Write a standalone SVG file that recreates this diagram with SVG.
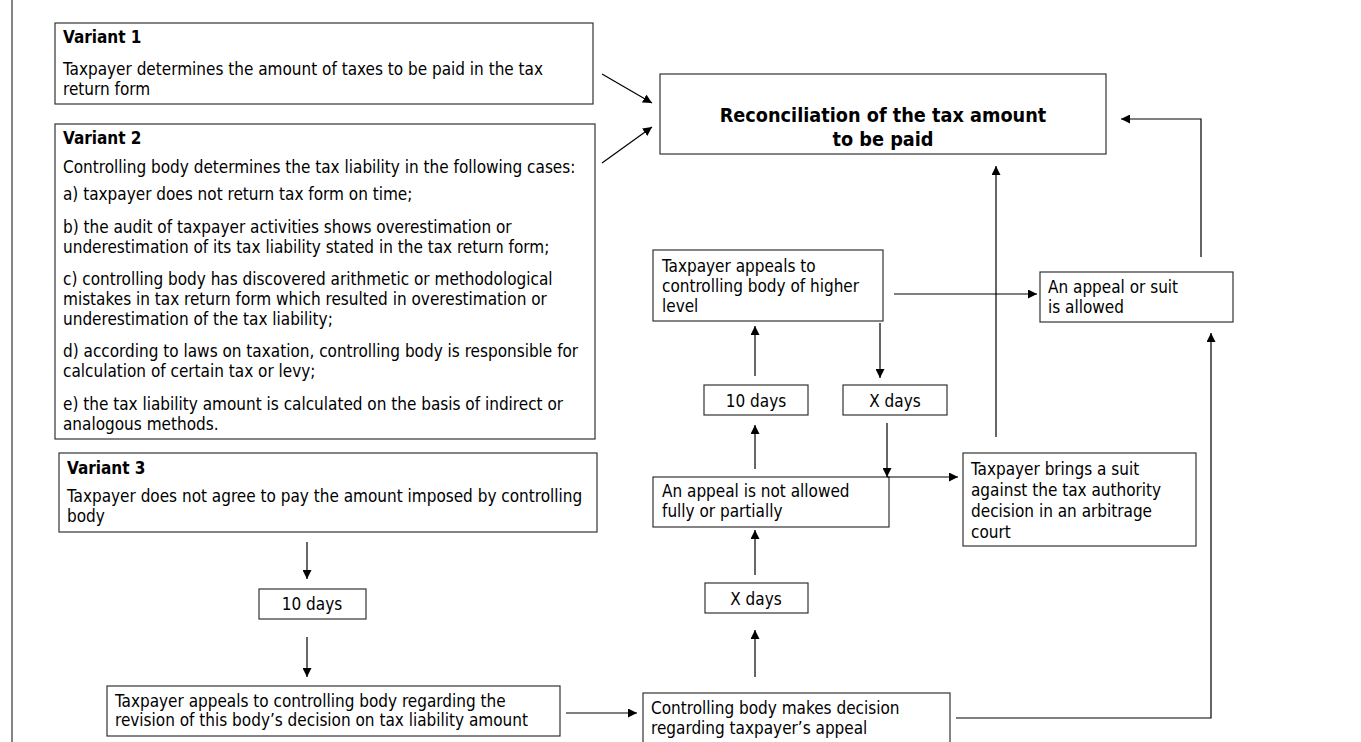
<svg xmlns="http://www.w3.org/2000/svg" width="1361" height="742" viewBox="0 0 1361 742">
<style>
.box{fill:#fff;stroke:#333;stroke-width:1.2}
.t{font-family:"DejaVu Sans Condensed","DejaVu Sans",sans-serif;font-size:17px;fill:#000}
.b{font-weight:bold}
.c{text-anchor:middle}
.big{font-size:19.7px;font-weight:bold;text-anchor:middle}
.ln{fill:none;stroke:#000;stroke-width:1.2}
.ar{marker-end:url(#ah)}
</style>
<defs>
<marker id="ah" viewBox="0 0 10 10" refX="10" refY="5" markerWidth="9" markerHeight="9" markerUnits="userSpaceOnUse" orient="auto">
<path d="M0,0 L10,5 L0,10 z" fill="#000"/>
</marker>
</defs>
<rect width="1361" height="742" fill="#fff"/>
<line x1="12" y1="0" x2="12" y2="742" stroke="#333" stroke-width="1.2"/>

<g id="v1">
<rect class="box" x="55" y="23" width="538" height="81"/>
<text class="t b" x="63" y="43">Variant 1</text>
<text class="t" x="63" y="75">Taxpayer determines the amount of taxes to be paid in the tax</text>
<text class="t" x="63" y="95">return form</text>
</g>

<g id="v2">
<rect class="box" x="55" y="124" width="540" height="315"/>
<text class="t b" x="63" y="144">Variant 2</text>
<text class="t" x="63" y="173">Controlling body determines the tax liability in the following cases:</text>
<text class="t" x="63" y="200">a) taxpayer does not return tax form on time;</text>
<text class="t" x="63" y="233">b) the audit of taxpayer activities shows overestimation or</text>
<text class="t" x="63" y="253">underestimation of its tax liability stated in the tax return form;</text>
<text class="t" x="63" y="285">c) controlling body has discovered arithmetic or methodological</text>
<text class="t" x="63" y="305">mistakes in tax return form which resulted in overestimation or</text>
<text class="t" x="63" y="325">underestimation of the tax liability;</text>
<text class="t" x="63" y="357">d) according to laws on taxation, controlling body is responsible for</text>
<text class="t" x="63" y="377">calculation of certain tax or levy;</text>
<text class="t" x="63" y="410">e) the tax liability amount is calculated on the basis of indirect or</text>
<text class="t" x="63" y="430">analogous methods.</text>
</g>

<g id="v3">
<rect class="box" x="59" y="453" width="538" height="79"/>
<text class="t b" x="67" y="474">Variant 3</text>
<text class="t" x="67" y="502">Taxpayer does not agree to pay the amount imposed by controlling</text>
<text class="t" x="67" y="522">body</text>
</g>

<g id="recon">
<rect class="box" x="660" y="74" width="446" height="80"/>
<text class="t big" x="883" y="122">Reconciliation of the tax amount</text>
<text class="t big" x="883" y="146">to be paid</text>
</g>

<g id="appeal-higher">
<rect class="box" x="653" y="250" width="230" height="71"/>
<text class="t" x="662" y="272">Taxpayer appeals to</text>
<text class="t" x="662" y="292">controlling body of higher</text>
<text class="t" x="662" y="312">level</text>
</g>

<g id="days10-a">
<rect class="box" x="704" y="385" width="104" height="30"/>
<text class="t c" x="756" y="407">10 days</text>
</g>

<g id="xdays-a">
<rect class="box" x="843" y="385" width="104" height="30"/>
<text class="t c" x="895" y="407">X days</text>
</g>

<g id="not-allowed">
<rect class="box" x="653" y="477" width="236" height="50"/>
<text class="t" x="662" y="497">An appeal is not allowed</text>
<text class="t" x="662" y="517">fully or partially</text>
</g>

<g id="suit">
<rect class="box" x="963" y="453" width="233" height="93"/>
<text class="t" x="971" y="475">Taxpayer brings a suit</text>
<text class="t" x="971" y="496">against the tax authority</text>
<text class="t" x="971" y="517">decision in an arbitrage</text>
<text class="t" x="971" y="538">court</text>
</g>

<g id="allowed">
<rect class="box" x="1040" y="272" width="193" height="50"/>
<text class="t" x="1048" y="293">An appeal or suit</text>
<text class="t" x="1048" y="313">is allowed</text>
</g>

<g id="days10-b">
<rect class="box" x="259" y="589" width="107" height="30"/>
<text class="t c" x="312" y="610">10 days</text>
</g>

<g id="appeal-ctrl">
<rect class="box" x="107" y="686" width="453" height="50"/>
<text class="t" x="115" y="707">Taxpayer appeals to controlling body regarding the</text>
<text class="t" x="115" y="726">revision of this body’s decision on tax liability amount</text>
</g>

<g id="xdays-b">
<rect class="box" x="705" y="583" width="103" height="30"/>
<text class="t c" x="756" y="605">X days</text>
</g>

<g id="ctrl-decision">
<rect class="box" x="643" y="693" width="307" height="60"/>
<text class="t" x="651" y="714">Controlling body makes decision</text>
<text class="t" x="651" y="734">regarding taxpayer’s appeal</text>
</g>

<g id="connectors">
<line class="ln ar" x1="602" y1="74" x2="652" y2="103"/>
<line class="ln ar" x1="602" y1="163" x2="652" y2="127"/>
<polyline class="ln ar" points="1201,257 1201,119 1121,119"/>
<line class="ln ar" x1="996" y1="437" x2="996" y2="166"/>
<line class="ln ar" x1="894" y1="294" x2="1037" y2="294"/>
<line class="ln ar" x1="755" y1="376" x2="755" y2="326"/>
<line class="ln ar" x1="880" y1="323" x2="880" y2="378"/>
<line class="ln ar" x1="755" y1="469" x2="755" y2="425"/>
<line class="ln ar" x1="887" y1="423" x2="887" y2="477"/>
<line class="ln ar" x1="887" y1="477" x2="958" y2="477"/>
<line class="ln ar" x1="755" y1="575" x2="755" y2="530"/>
<line class="ln ar" x1="755" y1="677" x2="755" y2="630"/>
<line class="ln ar" x1="307" y1="542" x2="307" y2="579"/>
<line class="ln ar" x1="307" y1="637" x2="307" y2="677"/>
<line class="ln ar" x1="566" y1="713" x2="637" y2="713"/>
<polyline class="ln ar" points="956,718 1211,718 1211,333"/>
</g>
</svg>
